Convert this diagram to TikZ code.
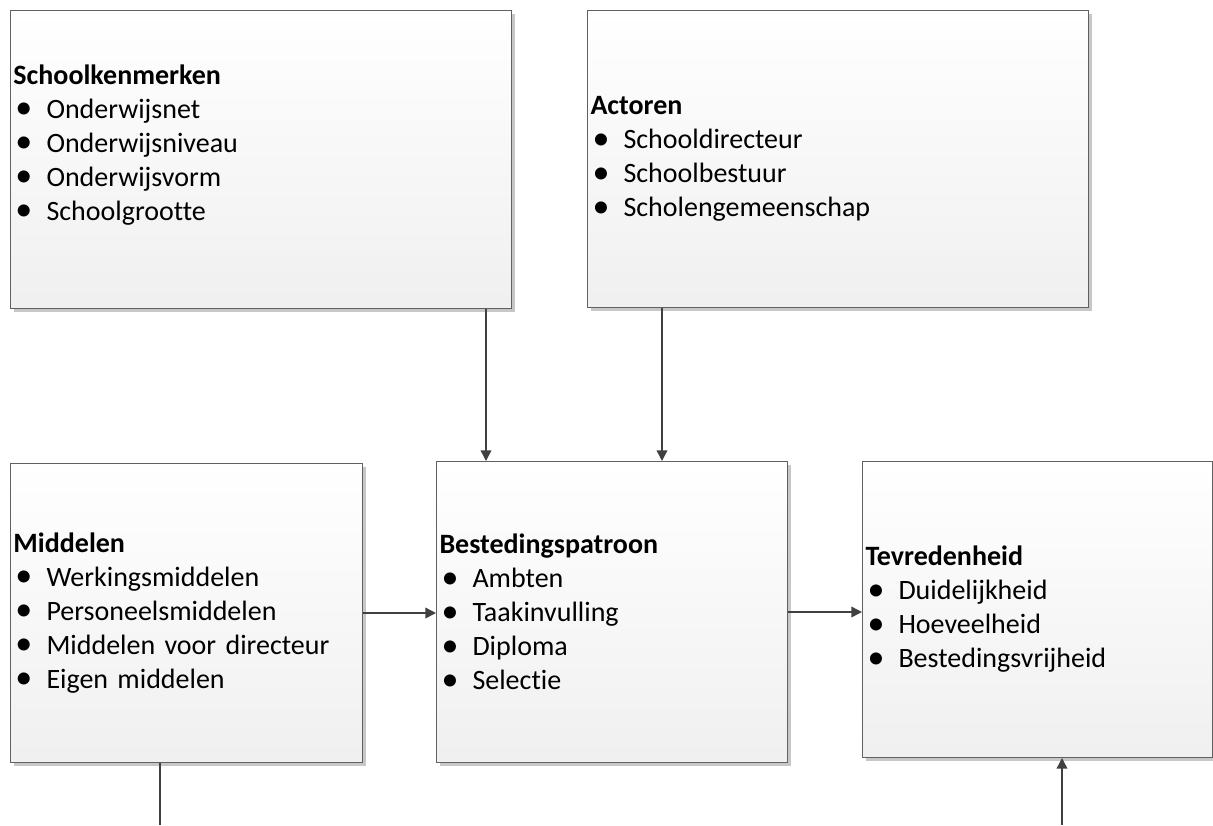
\documentclass[tikz,border=0pt]{standalone}
\usepackage{fontspec}
\setmainfont{Carlito}[Ligatures=NoCommon]
\usetikzlibrary{arrows.meta,shadows}

\newcommand{\bul}{\makebox[24.75pt][l]{\hspace{1.5pt}\raisebox{-0.3pt}{\fontsize{25.5pt}{25.5pt}\selectfont\textbullet}}}

\begin{document}
\begin{tikzpicture}[x=0.75pt,y=-0.75pt,
  box/.style={draw=black!62, line width=0.75pt, anchor=north west,
    top color=white, bottom color=black!6, inner xsep=2.25pt, inner ysep=0pt,
    align=left, font=\fontsize{21pt}{25.5pt}\selectfont,
    drop shadow={shadow xshift=2.25pt, shadow yshift=-2.25pt, fill=black!22, opacity=1}},
  conn/.style={draw=black!75, line width=1.1pt, -{Triangle[length=8pt,width=8pt]}},
  plain/.style={draw=black!75, line width=1.1pt}]

\useasboundingbox (0,0) rectangle (1213,825);

% Blokken
\node[box, text width=371.25pt, minimum height=223.5pt] (kenmerk) at (10,10)
  {\textbf{Schoolkenmerken}\\ \bul Onderwijsnet\\ \bul Onderwijsniveau\\ \bul Onderwijsvorm\\ \bul Schoolgrootte\\ \mbox{}};
\node[box, text width=371.25pt, minimum height=222.75pt] (actoren) at (587,10)
  {\textbf{Actoren}\\ \bul Schooldirecteur\\ \bul Schoolbestuur\\ \bul Scholengemeenschap};
\node[box, text width=259.5pt, minimum height=224.25pt] (middelen) at (10,463)
  {\textbf{Middelen}\\ \bul Werkingsmiddelen\\ \bul Personeelsmiddelen\\ \bul Middelen voor directeur\\ \bul Eigen middelen};
\node[box, text width=258.75pt, minimum height=225.75pt] (besteding) at (436,461)
  {\textbf{Bestedingspatroon}\\ \bul Ambten\\ \bul Taakinvulling\\ \bul Diploma\\ \bul Selectie};
\node[box, text width=258pt, minimum height=222pt] (tevreden) at (862,461)
  {\textbf{Tevredenheid}\\ \bul Duidelijkheid\\ \bul Hoeveelheid\\ \bul Bestedingsvrijheid};

% Hulppunten
\coordinate (kx) at (486,0);
\coordinate (ax) at (662,0);
\coordinate (mideinde) at (160,825);
\coordinate (tevstart) at (1062,825);

% Verbindingen
\draw[conn] (kenmerk.south -| kx) -- (besteding.north -| kx);
\draw[conn] (actoren.south -| ax) -- (besteding.north -| ax);
\draw[conn] (middelen.east) -- (middelen.east -| besteding.west);
\draw[conn] (besteding.east) -- (besteding.east -| tevreden.west);
\draw[plain] (middelen.south -| mideinde) -- (mideinde);
\draw[conn] (tevstart) -- (tevreden.south -| tevstart);

\end{tikzpicture}
\end{document}
